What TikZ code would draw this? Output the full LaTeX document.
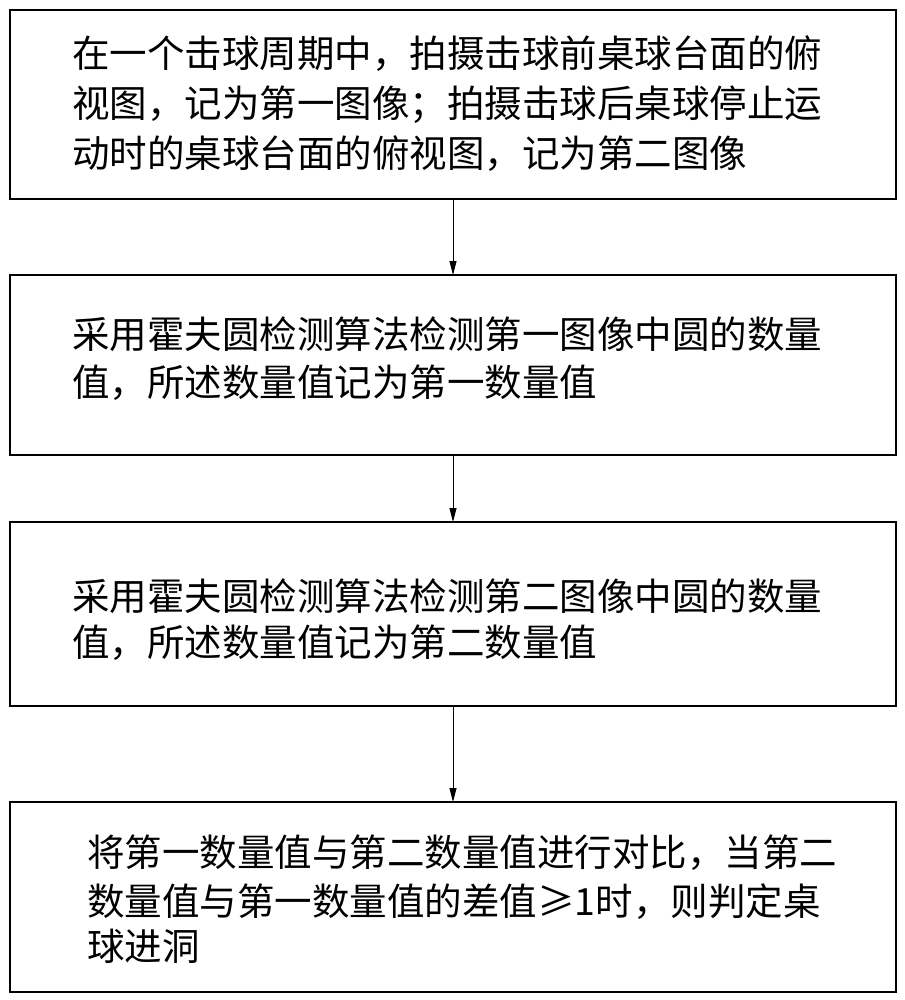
\documentclass[tikz,border=0pt]{standalone}
\usepackage{fontspec}
\setmainfont{Noto Sans CJK SC}
\usetikzlibrary{arrows.meta}
\begin{document}
\begin{tikzpicture}[x=1pt,y=-1pt,
  box/.style={draw,line width=1.5pt,inner sep=0pt},
  txt/.style={anchor=base west,inner sep=0pt,font=\fontsize{37.5}{42}\selectfont},
  arr/.style={-{Triangle[length=14pt,width=7pt]},line width=1pt}]
\useasboundingbox (0,0) rectangle (904,1000);
\draw[box] (10,10) rectangle (896,199);
\coordinate (b1) at (453,199);
\draw[box] (10,275) rectangle (896,455);
\coordinate (t2) at (453,275); \coordinate (b2) at (453,455);
\draw[box] (10,522) rectangle (896,706);
\coordinate (t3) at (453,522); \coordinate (b3) at (453,706);
\draw[box] (10,802) rectangle (896,992);
\coordinate (t4) at (453,802);
\node[txt] (l11) at (72,68) {在一个击球周期中，拍摄击球前桌球台面的俯};
\node[txt] (l12) at (72,118) {视图，记为第一图像；拍摄击球后桌球停止运};
\node[txt] (l13) at (72,168) {动时的桌球台面的俯视图，记为第二图像};
\node[txt] (l21) at (72,348) {采用霍夫圆检测算法检测第一图像中圆的数量};
\node[txt] (l22) at (72,396) {值，所述数量值记为第一数量值};
\node[txt] (l31) at (72,610) {采用霍夫圆检测算法检测第二图像中圆的数量};
\node[txt] (l32) at (72,656) {值，所述数量值记为第二数量值};
\node[txt] (l41) at (87,866) {将第一数量值与第二数量值进行对比，当第二};
\node[txt] (l42) at (87,915) {数量值与第一数量值的差值≥1时，则判定桌};
\node[txt] (l43) at (87,960) {球进洞};
\draw[arr] (b1) -- (t2);
\draw[arr] (b2) -- (t3);
\draw[arr] (b3) -- (t4);
\end{tikzpicture}
\end{document}
